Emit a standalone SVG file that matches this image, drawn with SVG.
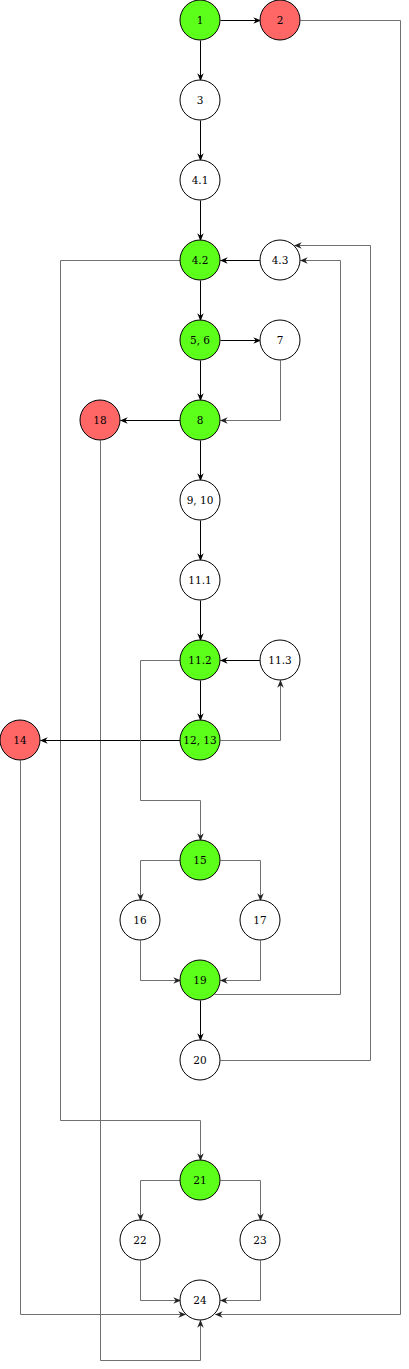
<svg xmlns="http://www.w3.org/2000/svg" width="409" height="1369" viewBox="0 0 409 1369">
<style>
.n circle{stroke:#000;stroke-width:1}
.w circle{fill:#fff}
.g circle{fill:#5cff1a}
.r circle{fill:#ff6666}
text{font-family:"DejaVu Serif","Liberation Serif",serif;font-size:10.5px;text-anchor:middle;dominant-baseline:central;fill:#000}
.e path{fill:none;stroke-width:1}
.b{stroke:#000;marker-end:url(#ab)}
.y{stroke:#707070;marker-end:url(#ay)}
</style>
<defs>
<marker id="ab" viewBox="0 0 10 10" refX="9" refY="5" markerWidth="8" markerHeight="8" markerUnits="userSpaceOnUse" orient="auto">
<path d="M0,1 L10,5 L0,9 L3,5 Z" fill="#000"/>
</marker>
<marker id="ay" viewBox="0 0 10 10" refX="9" refY="5" markerWidth="8" markerHeight="8" markerUnits="userSpaceOnUse" orient="auto">
<path d="M0,1 L10,5 L0,9 L3,5 Z" fill="#222"/>
</marker>
</defs>
<g id="connectors" class="e" transform="translate(0.5,0.5)">
<path class="b" d="M220,20 H260"/>
<path class="y" d="M300,20 H400 V1314 H215"/>
<path class="b" d="M200,40 V80"/>
<path class="b" d="M200,120 V160"/>
<path class="b" d="M200,200 V240"/>
<path class="b" d="M260,260 H220"/>
<path class="y" d="M220,1060 H370 V245 H294"/>
<path class="y" d="M214,994 H340 V260 H300"/>
<path class="y" d="M180,260 H60 V1120 H200 V1160"/>
<path class="b" d="M200,280 V320"/>
<path class="b" d="M220,340 H260"/>
<path class="b" d="M200,360 V400"/>
<path class="y" d="M280,360 V420 H220"/>
<path class="b" d="M180,420 H120"/>
<path class="y" d="M100,440 V1360 H200 V1320"/>
<path class="b" d="M200,440 V480"/>
<path class="b" d="M200,520 V560"/>
<path class="b" d="M200,600 V640"/>
<path class="b" d="M260,660 H220"/>
<path class="b" d="M200,680 V720"/>
<path class="y" d="M220,740 H280 V680"/>
<path class="b" d="M180,740 H40"/>
<path class="y" d="M20,760 V1314 H185"/>
<path class="y" d="M180,660 H140 V800 H200 V840"/>
<path class="y" d="M180,860 H140 V900"/>
<path class="y" d="M220,860 H260 V900"/>
<path class="y" d="M140,940 V980 H180"/>
<path class="y" d="M260,940 V980 H220"/>
<path class="b" d="M200,1000 V1040"/>
<path class="y" d="M180,1180 H140 V1220"/>
<path class="y" d="M220,1180 H260 V1220"/>
<path class="y" d="M140,1260 V1300 H180"/>
<path class="y" d="M260,1260 V1300 H220"/>
</g>
<g id="n1" class="n g"><circle cx="200" cy="20" r="20"/><text x="200" y="20">1</text></g>
<g id="n2" class="n r"><circle cx="280" cy="20" r="20"/><text x="280" y="20">2</text></g>
<g id="n3" class="n w"><circle cx="200" cy="100" r="20"/><text x="200" y="100">3</text></g>
<g id="n4_1" class="n w"><circle cx="200" cy="180" r="20"/><text x="200" y="180">4.1</text></g>
<g id="n4_2" class="n g"><circle cx="200" cy="260" r="20"/><text x="200" y="260">4.2</text></g>
<g id="n4_3" class="n w"><circle cx="280" cy="260" r="20"/><text x="280" y="260">4.3</text></g>
<g id="n5_6" class="n g"><circle cx="200" cy="340" r="20"/><text x="200" y="340">5, 6</text></g>
<g id="n7" class="n w"><circle cx="280" cy="340" r="20"/><text x="280" y="340">7</text></g>
<g id="n18" class="n r"><circle cx="100" cy="420" r="20"/><text x="100" y="420">18</text></g>
<g id="n8" class="n g"><circle cx="200" cy="420" r="20"/><text x="200" y="420">8</text></g>
<g id="n9_10" class="n w"><circle cx="200" cy="500" r="20"/><text x="200" y="500">9, 10</text></g>
<g id="n11_1" class="n w"><circle cx="200" cy="580" r="20"/><text x="200" y="580">11.1</text></g>
<g id="n11_2" class="n g"><circle cx="200" cy="660" r="20"/><text x="200" y="660">11.2</text></g>
<g id="n11_3" class="n w"><circle cx="280" cy="660" r="20"/><text x="280" y="660">11.3</text></g>
<g id="n14" class="n r"><circle cx="20" cy="740" r="20"/><text x="20" y="740">14</text></g>
<g id="n12_13" class="n g"><circle cx="200" cy="740" r="20"/><text x="200" y="740">12, 13</text></g>
<g id="n15" class="n g"><circle cx="200" cy="860" r="20"/><text x="200" y="860">15</text></g>
<g id="n16" class="n w"><circle cx="140" cy="920" r="20"/><text x="140" y="920">16</text></g>
<g id="n17" class="n w"><circle cx="260" cy="920" r="20"/><text x="260" y="920">17</text></g>
<g id="n19" class="n g"><circle cx="200" cy="980" r="20"/><text x="200" y="980">19</text></g>
<g id="n20" class="n w"><circle cx="200" cy="1060" r="20"/><text x="200" y="1060">20</text></g>
<g id="n21" class="n g"><circle cx="200" cy="1180" r="20"/><text x="200" y="1180">21</text></g>
<g id="n22" class="n w"><circle cx="140" cy="1240" r="20"/><text x="140" y="1240">22</text></g>
<g id="n23" class="n w"><circle cx="260" cy="1240" r="20"/><text x="260" y="1240">23</text></g>
<g id="n24" class="n w"><circle cx="200" cy="1300" r="20"/><text x="200" y="1300">24</text></g>
</svg>
